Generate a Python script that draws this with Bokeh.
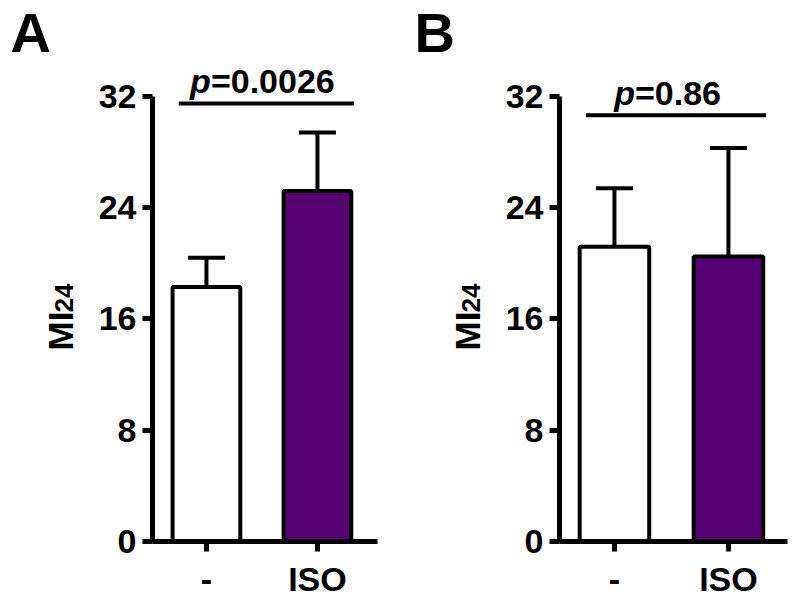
from bokeh.plotting import figure
from bokeh.models import Range1d, FixedTicker, Title
from bokeh.layouts import row
from bokeh.embed import file_html
from bokeh.resources import INLINE
from bokeh.core.properties import value

# ---- data ----
groups = ["-", "ISO"]
positions = [1, 2]
a_mean = [18.3, 25.2]
a_upper = [20.4, 29.4]
b_mean = [21.2, 20.5]
b_upper = [25.4, 28.3]
y_ticks = [0, 8, 16, 24, 32]
bar_colors = ["#ffffff", "#550070"]
a_pvalue = "=0.0026"
b_pvalue = "=0.86"
a_sig_y = [31.5]
b_sig_y = [30.65]
y_label_main = "MI"
y_label_sub = "24"

FONT = "Liberation Sans"
TOP = 65          # frame top (px)
BOTTOM = 542      # frame bottom (px)
PX = (542 - 96) / 32.0  # pixels per y unit
YMAX = 32 + (96 - TOP) / PX


def panel(letter, mean, upper, ptxt, sig_y, width, bl, br, x0, x1, p_split, letter_off):
    p = figure(width=width, height=600, x_range=Range1d(x0, x1), y_range=Range1d(0, YMAX),
               output_backend="svg", toolbar_location=None,
               min_border_left=bl, min_border_right=br, min_border_top=TOP,
               min_border_bottom=600 - BOTTOM)
    p.outline_line_color = None
    p.xgrid.grid_line_color = None
    p.ygrid.grid_line_color = None
    p.background_fill_color = "white"
    p.border_fill_color = "white"

    xppu = (width - bl - br) / (x1 - x0)

    # error bars (upper only)
    p.segment(x0=positions, y0=mean, x1=positions, y1=upper, line_color="black", line_width=4)
    cap = 18.5 / xppu
    p.segment(x0=[x - cap for x in positions], y0=upper, x1=[x + cap for x in positions], y1=upper,
              line_color="black", line_width=4)
    # bars
    p.vbar(x=positions, top=mean, bottom=0, width=0.61, fill_color=bar_colors,
           line_color="black", line_width=4)

    # significance line and p-value
    p.segment(x0=[0.75], y0=sig_y, x1=[2.33], y1=sig_y, line_color="black", line_width=4)
    ty = sig_y[0] + 1.6
    p.text(x=[p_split], y=[ty], text=["p"], text_font=value(FONT), text_font_size="34px",
           text_font_style="bold italic", text_align="right", text_baseline="middle",
           text_color="black")
    p.text(x=[p_split], y=[ty], text=[ptxt], text_font=value(FONT), text_font_size="34px",
           text_font_style="bold", text_align="left", text_baseline="middle",
           text_color="black")

    # axes
    for ax in (p.xaxis, p.yaxis):
        ax.axis_line_width = 5
        ax.axis_line_color = "black"
        ax.major_tick_line_width = 5
        ax.major_tick_line_color = "black"
        ax.major_tick_in = 0
        ax.major_tick_out = 10
        ax.minor_tick_line_color = None
        ax.major_label_text_font = FONT
        ax.major_label_text_font_size = "34px"
        ax.major_label_text_font_style = "bold"
        ax.major_label_text_color = "black"
    p.yaxis.ticker = FixedTicker(ticks=y_ticks)
    p.yaxis.bounds = (0, 32)
    p.yaxis.major_label_standoff = 6
    p.xaxis.ticker = FixedTicker(ticks=positions)
    p.xaxis.major_label_overrides = {pos: g for pos, g in zip(positions, groups)}
    p.xaxis.major_label_standoff = 8

    # y-axis label: "MI" with subscript "24" (rotated side titles)
    p.add_layout(Title(text=y_label_sub, text_font=FONT, text_font_size="26px",
                       text_font_style="bold", text_color="black", align="left",
                       offset=BOTTOM - 313, standoff=45, vertical_align="bottom"), "left")
    p.add_layout(Title(text=y_label_main, text_font=FONT, text_font_size="35px",
                       text_font_style="bold", text_color="black", align="left",
                       offset=BOTTOM - 351, standoff=-98, vertical_align="bottom"), "left")

    # panel letter as title
    p.title.text = letter
    p.title.text_font = FONT
    p.title.text_font_size = "56px"
    p.title.text_font_style = "bold"
    p.title.text_color = "black"
    p.title.align = "left"
    p.title.vertical_align = "top"
    p.title.offset = letter_off
    p.title.standoff = 0
    return p


pa = panel("A", a_mean, a_upper, a_pvalue, a_sig_y, 404, 152, 27, 0.514, 2.541, 1.04, -142)
pb = panel("B", b_mean, b_upper, b_pvalue, b_sig_y, 392, 155, 9, 0.518, 2.518, 1.18, -145)

layout = row(pa, pb)
open("out.html", "w").write(file_html(layout, INLINE))
